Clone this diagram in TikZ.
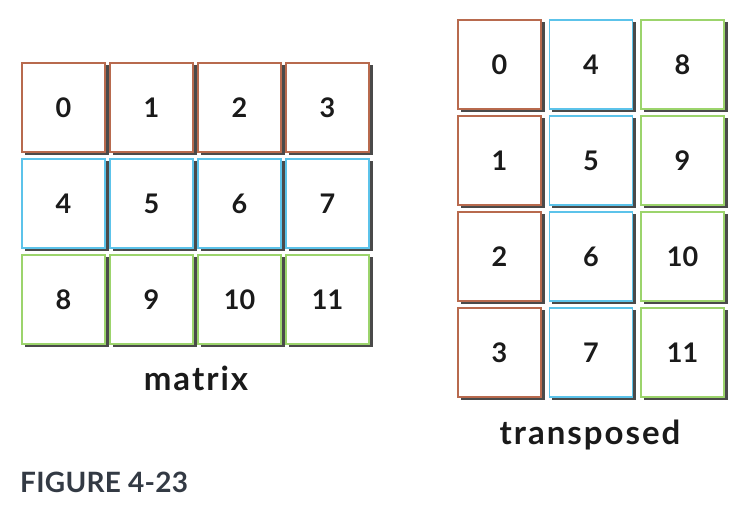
\documentclass[tikz,border=0pt]{standalone}
\usepackage{fontspec}
\setmainfont{Lato}
\definecolor{cbrown}{HTML}{B86A4E}
\definecolor{cblue}{HTML}{5CC3EA}
\definecolor{cgreen}{HTML}{9CD46C}
\definecolor{cshadow}{HTML}{4A4A4A}
\definecolor{ctext}{HTML}{1A1A1A}
\definecolor{cfig}{HTML}{333A44}
\begin{document}
\begin{tikzpicture}[x=1pt,y=-1pt,
  cell/.style={draw=#1, line width=1.8pt, fill=white, minimum width=83pt, minimum height=89pt,
    inner sep=0pt, font=\fontsize{27}{30}\selectfont\bfseries, text=ctext},
  shade box/.style={fill=cshadow, minimum width=84pt, minimum height=90pt, inner sep=0pt},
  lbl/.style={font=\fontsize{33}{38}\selectfont\bfseries\addfontfeature{LetterSpace=6}, text=ctext, inner sep=0pt, anchor=base}]
\useasboundingbox (0,0) rectangle (745,526);
% left matrix
\foreach \v [count=\i from 0] in {0,...,11}{
  \pgfmathtruncatemacro{\r}{int(\i/4)}
  \pgfmathtruncatemacro{\c}{mod(\i,4)}
  \ifcase\r \def\col{cbrown}\or \def\col{cblue}\or \def\col{cgreen}\fi
  \node[shade box] (ms\v) at ({63.5+88*\c+3},{107.5+96*\r+3}) {};
  \node[cell=\col] (m\v) at ({63.5+88*\c},{107.5+96*\r}) {\v};
}
% transposed
\foreach \v [count=\i from 0] in {0,...,11}{
  \pgfmathtruncatemacro{\c}{int(\i/4)}
  \pgfmathtruncatemacro{\r}{mod(\i,4)}
  \ifcase\c \def\col{cbrown}\or \def\col{cblue}\or \def\col{cgreen}\fi
  \node[shade box] (ts\v) at ({499.5+91.5*\c+3},{64.5+96*\r+3}) {};
  \node[cell=\col] (t\v) at ({499.5+91.5*\c},{64.5+96*\r}) {\v};
}
\node[lbl] (lm) at (196,391) {matrix};
\node[lbl] (lt) at (590,445) {transposed};
\node[font=\fontsize{28}{32}\selectfont\bfseries\addfontfeature{LetterSpace=1}, text=cfig, anchor=base west, inner sep=0pt] (fig) at (20,493) {FIGURE 4-23};
\end{tikzpicture}
\end{document}
